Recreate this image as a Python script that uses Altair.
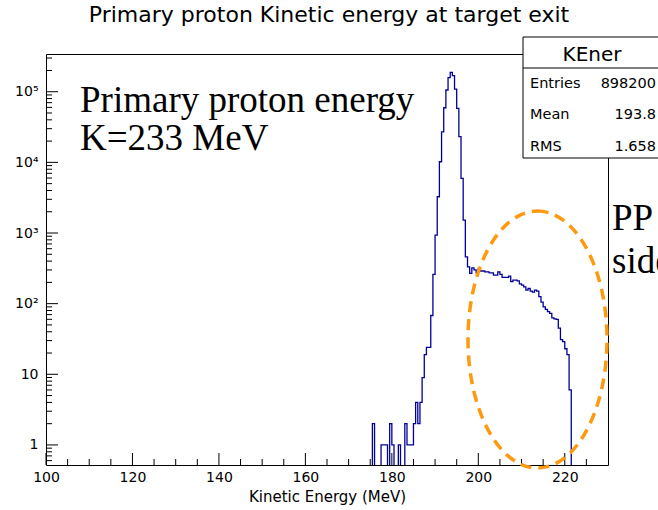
import altair as alt
import pandas as pd

# ---------------- data ----------------
energy = [175.5, 176.0, 176.5, 177.0, 177.5, 178.0, 178.5, 179.0, 179.5, 180.0,
          180.5, 181.0, 181.5, 182.0, 182.5, 183.0, 183.5, 184.0, 184.5, 185.0,
          185.5, 186.0, 186.5, 187.0, 187.5, 188.0, 188.5, 189.0, 189.5, 190.0,
          190.5, 191.0, 191.5, 192.0, 192.5, 193.0, 193.5, 194.0, 194.5, 195.0,
          195.5, 196.0, 196.5, 197.0, 197.5, 198.0, 198.5, 199.0, 199.5, 200.0,
          200.5, 201.0, 201.5, 202.0, 202.5, 203.0, 203.5, 204.0, 204.5, 205.0,
          205.5, 206.0, 206.5, 207.0, 207.5, 208.0, 208.5, 209.0, 209.5, 210.0,
          210.5, 211.0, 211.5, 212.0, 212.5, 213.0, 213.5, 214.0, 214.5, 215.0,
          215.5, 216.0, 216.5, 217.0, 217.5, 218.0, 218.5, 219.0, 219.5, 220.0,
          220.5, 221.0]
counts = [2, 0, 0, 0, 1, 1, 1, 0, 2, 1,
          0, 0, 1, 0, 0, 2, 1, 1, 1, 2,
          4, 2, 4, 9, 19, 24, 24, 68, 260, 933,
          3260, 10200, 27100, 59300, 105700, 158000, 188000, 169000, 109000, 58300,
          23100, 5930, 1520, 460, 331, 268, 320, 300, 273, 315,
          290, 290, 282, 282, 273, 273, 254, 254, 282, 260,
          236, 236, 236, 245, 205, 215, 215, 210, 190, 183,
          173, 155, 164, 150, 146, 155, 150, 126, 105, 90,
          83, 77, 73, 63, 61, 60, 45, 31, 29, 23,
          19, 6]
first_edge = 175.0
last_edge = 221.5

x_major = [100, 120, 140, 160, 180, 200, 220]
x_minor = [105, 110, 115, 125, 130, 135, 145, 150, 155, 165, 170, 175,
           185, 190, 195, 205, 210, 215, 225]
y_major = [1, 10, 100, 1000, 10000, 100000]
y_minor = [0.6, 0.7, 0.8, 0.9,
           2, 3, 4, 5, 6, 7, 8, 9,
           20, 30, 40, 50, 60, 70, 80, 90,
           200, 300, 400, 500, 600, 700, 800, 900,
           2000, 3000, 4000, 5000, 6000, 7000, 8000, 9000,
           20000, 30000, 40000, 50000, 60000, 70000, 80000, 90000,
           200000, 300000]

stats_title = "KEner"
stats_labels = ["Entries", "Mean", "RMS"]
stats_values = ["898200", "193.8", "1.658"]

title_text = "Primary proton Kinetic energy at target exit"
x_title = "Kinetic Energy (MeV)"
note_lines = ["Primary proton energy", "K=233 MeV"]
side_lines = ["PP", "side"]

# ---------------- layout constants ----------------
W, H = 562, 411
SANS = "DejaVu Sans"
SERIF = "Liberation Serif"

hist_df = pd.DataFrame({
    "E": [first_edge] + energy + [last_edge],
    "count": [0] + counts + [0],
})

xs = alt.Scale(domain=[100, 230], nice=False, zero=False)
ys = alt.Scale(type="log", domain=[0.52, 342000], nice=False)

xa = alt.Axis(values=x_major, format="d", ticks=False, domain=False, grid=False,
              labelFont=SANS, labelFontSize=14, labelColor="black",
              labelPadding=5, labelFlush=False, labelOverlap=False,
              titleFont=SANS, titleFontSize=15, titleFontWeight="normal",
              titleColor="black", titlePadding=5)
ya = alt.Axis(values=y_major, ticks=False, domain=False, grid=False,
              labelFont=SANS, labelFontSize=14, labelColor="black",
              labelPadding=8, labelOverlap=False,
              labelExpr="datum.value == 1 ? '1' : datum.value == 10 ? '10' : "
                        "datum.value == 100 ? '10²' : datum.value == 1000 ? '10³' : "
                        "datum.value == 10000 ? '10⁴' : '10⁵'")


def X(field):
    return alt.X(f"{field}:Q", scale=xs, axis=xa, title=x_title)


def Y(field):
    return alt.Y(f"{field}:Q", scale=ys, axis=ya, title=None)


hist = alt.Chart(hist_df).transform_calculate(
    c="max(datum.count, 0.05)"
).mark_line(interpolate="step-after", color="#000099", strokeWidth=1.3,
            clip=True).encode(x=X("E"), y=Y("c"))

xt_major = alt.Chart(pd.DataFrame({"E": x_major})).mark_rule(
    color="black", strokeWidth=1).encode(x=X("E"), y=alt.value(H), y2=alt.value(H - 12))
xt_minor = alt.Chart(pd.DataFrame({"E": x_minor})).mark_rule(
    color="black", strokeWidth=1).encode(x=X("E"), y=alt.value(H), y2=alt.value(H - 6))
yt_major = alt.Chart(pd.DataFrame({"c": y_major})).mark_rule(
    color="black", strokeWidth=1).encode(y=Y("c"), x=alt.value(0), x2=alt.value(12))
yt_minor = alt.Chart(pd.DataFrame({"c": y_minor})).mark_rule(
    color="black", strokeWidth=1).encode(y=Y("c"), x=alt.value(0), x2=alt.value(6))

# dashed orange ellipse annotation (custom symbol path, unit box)
a = 0.541
k = 0.5523
ell_path = (f"M0,-1 C{k*a:.4f},-1 {a},-{k} {a},0 C{a},{k} {k*a:.4f},1 0,1 "
            f"C-{k*a:.4f},1 -{a},{k} -{a},0 C-{a},-{k} -{k*a:.4f},-1 0,-1 Z")
ellipse = alt.Chart(pd.DataFrame({"n": [0]})).mark_point(
    shape=ell_path, filled=False, stroke="#FF9A10", strokeWidth=3.5,
    strokeDash=[11, 7], opacity=1, size=257 * 257
).encode(x=alt.value(491.5), y=alt.value(285.5))


def label(text, x, y, font, size, align="left", color="black"):
    return alt.Chart(pd.DataFrame({"t": [text]})).mark_text(
        font=font, fontSize=size, align=align, baseline="alphabetic", color=color
    ).encode(x=alt.value(x), y=alt.value(y), text="t:N")


layers = [hist, xt_major, xt_minor, yt_major, yt_minor, ellipse]

# chart title
layers.append(label(title_text, W / 2 + 2, -32, SANS, 22, align="center"))

# serif annotations
layers.append(label(note_lines[0], 34, 58, SERIF, 37))
layers.append(label(note_lines[1], 34, 96, SERIF, 37))
layers.append(label(side_lines[0], 566, 176, SERIF, 37))
layers.append(label(side_lines[1], 566, 219, SERIF, 37))

# statistics box
box = alt.Chart(pd.DataFrame({"n": [0]})).mark_rect(
    fill="white", stroke="black", strokeWidth=1
).encode(x=alt.value(477), x2=alt.value(625), y=alt.value(-17), y2=alt.value(104))
divider = alt.Chart(pd.DataFrame({"n": [0]})).mark_rule(
    color="black", strokeWidth=1
).encode(x=alt.value(477), x2=alt.value(625), y=alt.value(14))
layers += [box, divider]
layers.append(label(stats_title, 546, 7, SANS, 20, align="center"))
row_base = [34, 65, 97]
for lab, val, yb in zip(stats_labels, stats_values, row_base):
    layers.append(label(lab, 484, yb, SANS, 14.5))
    layers.append(label(val, 610, yb, SANS, 14.5, align="right"))

chart = alt.layer(*layers).properties(
    width=W, height=H,
    padding={"left": 46, "top": 54, "right": 50, "bottom": 45},
    autosize=alt.AutoSizeParams(type="none"),
    background="white",
).configure_view(stroke="black", strokeWidth=1)

chart.save("out.html", embed_options={"renderer": "svg", "actions": False})
